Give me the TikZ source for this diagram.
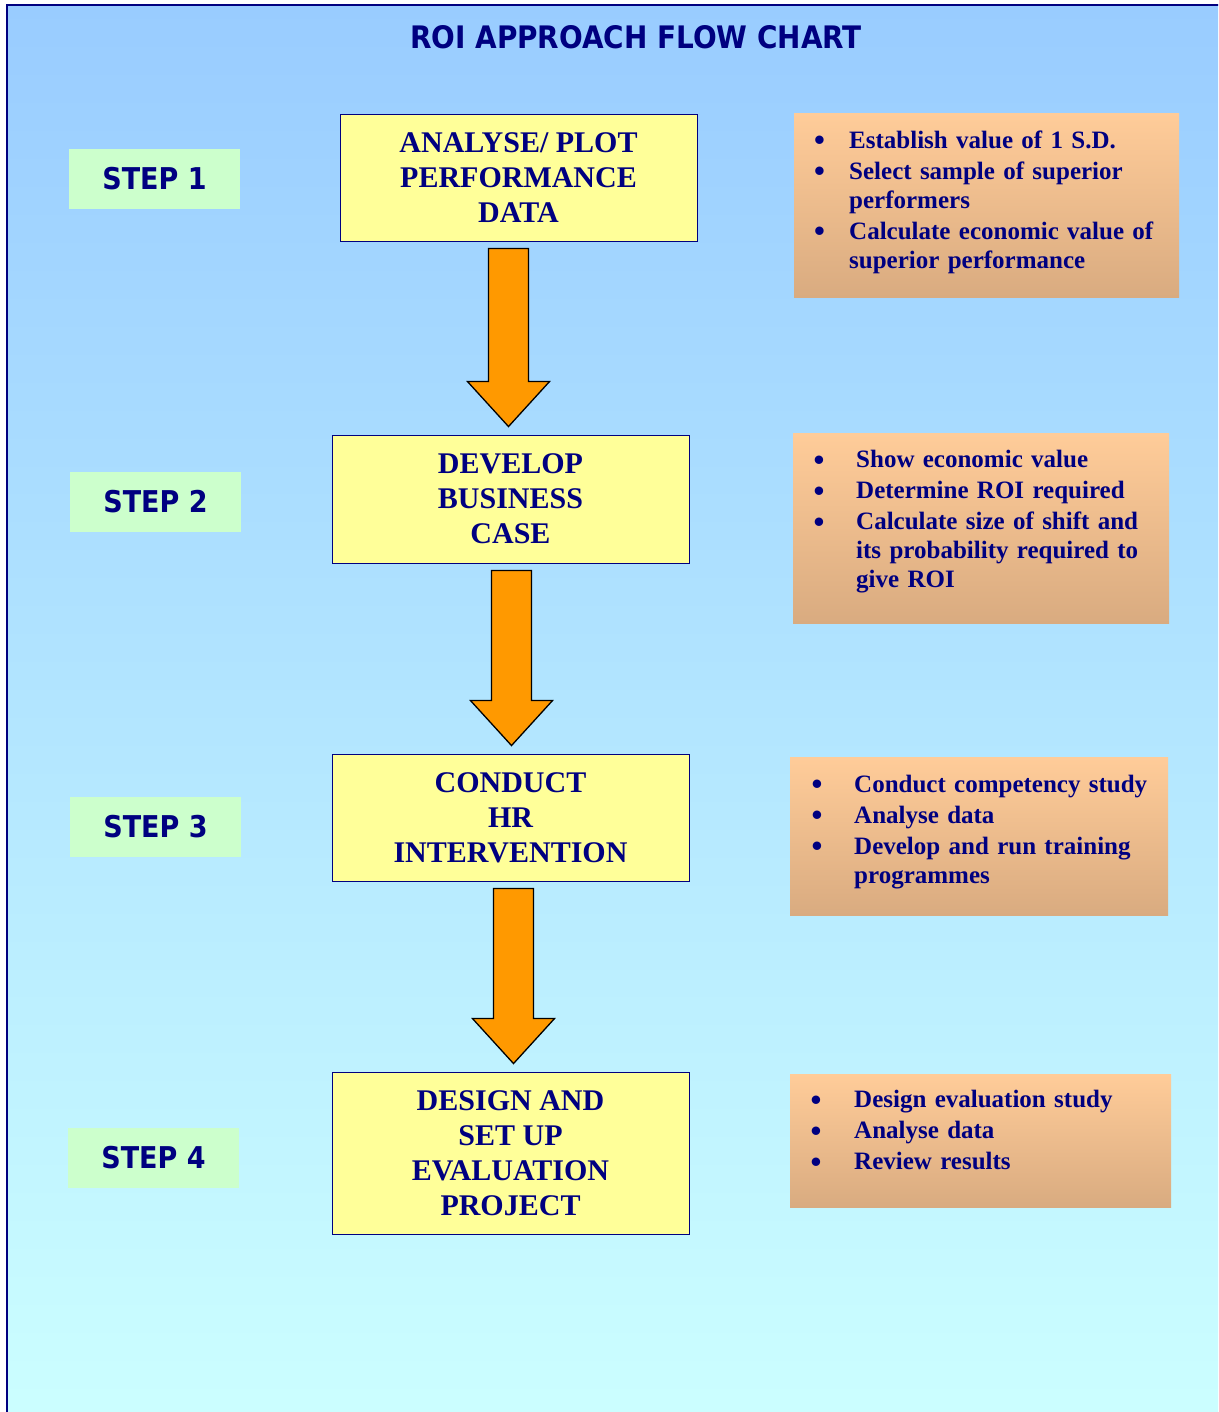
\documentclass[tikz,border=0pt]{standalone}
\usepackage{fontspec}
\setmainfont{Liberation Serif}
\newfontfamily\headfont{DejaVuSansCondensed-Bold.ttf}
\usepackage{xcolor}
\usetikzlibrary{calc}

\definecolor{navy}{RGB}{0,0,128}
\definecolor{skytop}{RGB}{153,204,255}
\definecolor{skybot}{RGB}{204,255,255}
\definecolor{padyellow}{RGB}{255,255,153}
\definecolor{stepgreen}{RGB}{204,255,204}
\definecolor{peachtop}{RGB}{255,204,153}
\definecolor{peachbot}{RGB}{217,171,128}
\definecolor{arroworange}{RGB}{255,153,0}

\newlength{\bulpad}
\newlength{\bulcol}
\newcommand{\bitem}[1]{\par\hangindent=\dimexpr\bulpad+\bulcol\relax\hangafter=1
  \noindent\hspace*{\bulpad}\makebox[\bulcol][l]{\raisebox{-2.5pt}{\fontsize{31}{29}\selectfont\textbullet}}#1}

\tikzset{
  every picture/.style = {
    x=1pt, y=-1pt
  },
  stepbox/.style={
    fill=stepgreen,
    minimum width=171pt,
    minimum height=60pt,
    inner sep=0pt,
    text=navy,
    font=\headfont\fontsize{30}{36}\selectfont
  },
  taskbox/.style={
    draw=navy,
    line width=0.9pt,
    fill=padyellow,
    minimum width=357pt,
    minimum height=127pt,
    inner sep=0pt,
    align=center,
    text=navy,
    font=\bfseries\fontsize{30}{35}\selectfont
  },
  notebox/.style={
    top color=peachtop,
    bottom color=peachbot,
    anchor=north west,
    inner sep=0pt,
    align=left,
    text=navy,
    font=\bfseries\fontsize{25}{29}\selectfont
  },
  fatarrow/.style={
    fill=arroworange,
    draw=black,
    line width=1.3pt,
    line join=miter
  }
}

\begin{document}
\begin{tikzpicture}
  \useasboundingbox (0,0) rectangle (1218,1412);
  \clip (0,0) rectangle (1218,1412);
  \fill[white] (0,0) rectangle (1218,1412);
  \draw[navy, line width=1.2pt, top color=skytop, bottom color=skybot] (7,5) rectangle (1240,1430);

  \node[text=navy, font=\headfont\fontsize{31}{36}\selectfont] (title) at (636,37) {ROI APPROACH FLOW CHART};

  % steps
  \node[stepbox] (s1) at (154.5,179) {STEP 1};
  \node[stepbox] (s2) at (155.5,502) {STEP 2};
  \node[stepbox] (s3) at (155.5,827) {STEP 3};
  \node[stepbox] (s4) at (153.5,1158) {STEP 4};

  % flow
  \node[taskbox] (b1) at (518.5,177.5) {ANALYSE/ PLOT\\PERFORMANCE\\DATA};
  \node[taskbox, minimum height=128pt] (b2) at (510.5,499) {DEVELOP\\BUSINESS\\CASE};
  \node[taskbox] (b3) at (510.5,817.5) {CONDUCT\\HR\\INTERVENTION};
  \node[taskbox, minimum height=162pt] (b4) at (510.5,1153) {DESIGN AND\\SET UP\\EVALUATION\\PROJECT};

  \foreach \a/\b/\dx in {b1/b2/-10, b2/b3/1, b3/b4/3}{
    \coordinate (top) at ($(\a.south)+(\dx,7)$);
    \coordinate (tip) at ($(\b.north -| top)+(0,-8)$);
    \draw[fatarrow] ($(top)+(-20,0)$) -- ($(top)+(20,0)$) -- ($(tip)+(20,-45)$)
      -- ($(tip)+(41,-45)$) -- (tip) -- ($(tip)+(-41,-45)$) -- ($(tip)+(-20,-45)$) -- cycle;
  }

  % notes
  \node[notebox, text width=385pt, minimum height=184pt] (r1) at (794,113) {%
    \setlength{\bulpad}{20pt}\setlength{\bulcol}{35pt}\setlength{\parskip}{2pt}%
    \bitem{Establish value of 1 S.D.}
    \bitem{Select sample of superior\newline performers}
    \bitem{Calculate economic value of\newline superior performance}\par\vspace{20pt}};
  \node[notebox, text width=376pt, minimum height=190pt] (r2) at (793,433) {%
    \setlength{\bulpad}{20.5pt}\setlength{\bulcol}{42.5pt}\setlength{\parskip}{2pt}%
    \bitem{Show economic value}
    \bitem{Determine ROI required}
    \bitem{Calculate size of shift and\newline its probability required to\newline give ROI}\par\vspace{26pt}};
  \node[notebox, text width=378pt, minimum height=158pt] (r3) at (790,757) {%
    \setlength{\bulpad}{21.5pt}\setlength{\bulcol}{42.5pt}\setlength{\parskip}{2pt}%
    \bitem{Conduct competency study}
    \bitem{Analyse data}
    \bitem{Develop and run training\newline programmes}\par\vspace{22pt}};
  \node[notebox, text width=381pt, minimum height=133pt] (r4) at (790,1074) {%
    \setlength{\bulpad}{20.5pt}\setlength{\bulcol}{43.5pt}\setlength{\parskip}{2pt}%
    \bitem{Design evaluation study}
    \bitem{Analyse data}
    \bitem{Review results}\par\vspace{32pt}};
\end{tikzpicture}
\end{document}
